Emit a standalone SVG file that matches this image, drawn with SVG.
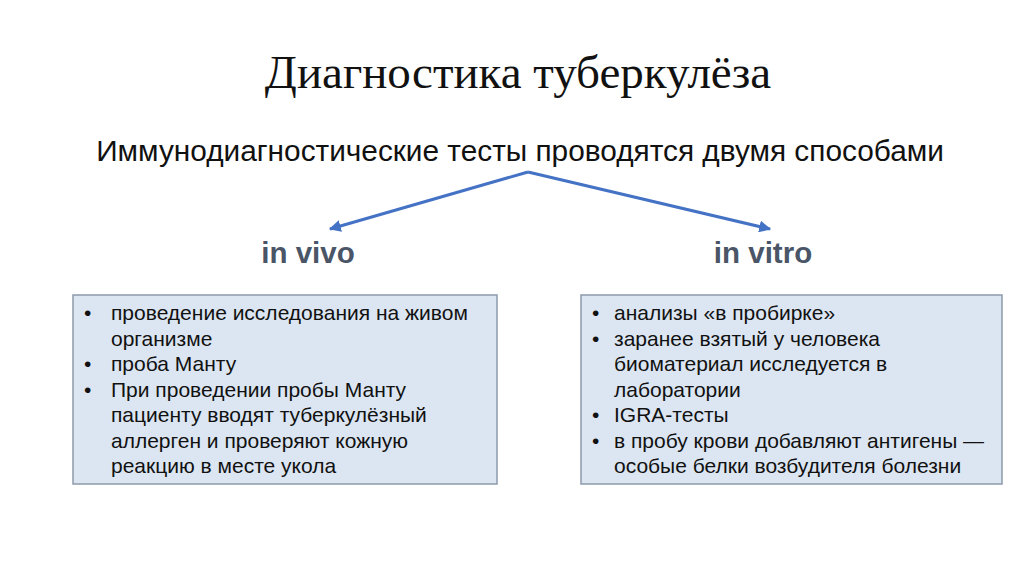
<svg xmlns="http://www.w3.org/2000/svg" width="1024" height="574" viewBox="0 0 1024 574">
<style>
.t{font-family:"Liberation Sans",Arial,sans-serif;font-size:21px;fill:#111}
.box{fill:#dce6f2;stroke:#8d9aab;stroke-width:1.5}
.h{font-family:"Liberation Sans",Arial,sans-serif;font-size:29.5px;font-weight:bold;fill:#4a5568;text-anchor:middle}
.c{stroke:#4472c4;stroke-width:3;fill:none}
</style>
<defs><marker id="a" viewBox="0 0 10 10" refX="9" refY="5" markerWidth="4" markerHeight="4" orient="auto"><path d="M0,0L10,5L0,10z" fill="#4472c4"/></marker></defs>
<rect width="1024" height="574" fill="#fff"/>
<text x="518" y="88" text-anchor="middle" font-family="Liberation Serif,serif" font-size="47" fill="#111">Диагностика туберкулёза</text>
<text x="520" y="161" text-anchor="middle" font-family="Liberation Sans,Arial,sans-serif" font-size="29.8" fill="#111">Иммунодиагностические тесты проводятся двумя способами</text>
<g id="connectors">
<path class="c" d="M528,172L330,229" marker-end="url(#a)"/>
<path class="c" d="M528,172L770,229" marker-end="url(#a)"/>
</g>
<g id="invivo">
<text class="h" x="308" y="263">in vivo</text>
<rect class="box" x="73" y="295" width="424" height="189"/>
<text class="t"><tspan x="84" y="320">•</tspan><tspan x="111" y="320">проведение исследования на живом</tspan><tspan x="111" y="345.5">организме</tspan><tspan x="84" y="371">•</tspan><tspan x="111" y="371">проба Манту</tspan><tspan x="84" y="396.5">•</tspan><tspan x="111" y="396.5">При проведении пробы Манту</tspan><tspan x="111" y="422">пациенту вводят туберкулёзный</tspan><tspan x="111" y="447.5">аллерген и проверяют кожную</tspan><tspan x="111" y="473">реакцию в месте укола</tspan></text>
</g>
<g id="invitro">
<text class="h" x="763" y="263">in vitro</text>
<rect class="box" x="581" y="295" width="421" height="189"/>
<text class="t"><tspan x="592" y="320">•</tspan><tspan x="614" y="320">анализы «в пробирке»</tspan><tspan x="592" y="345.5">•</tspan><tspan x="614" y="345.5">заранее взятый у человека</tspan><tspan x="614" y="371">биоматериал исследуется в</tspan><tspan x="614" y="396.5">лаборатории</tspan><tspan x="592" y="422">•</tspan><tspan x="614" y="422">IGRA-тесты</tspan><tspan x="592" y="447.5">•</tspan><tspan x="614" y="447.5">в пробу крови добавляют антигены —</tspan><tspan x="614" y="473">особые белки возбудителя болезни</tspan></text>
</g>
</svg>
